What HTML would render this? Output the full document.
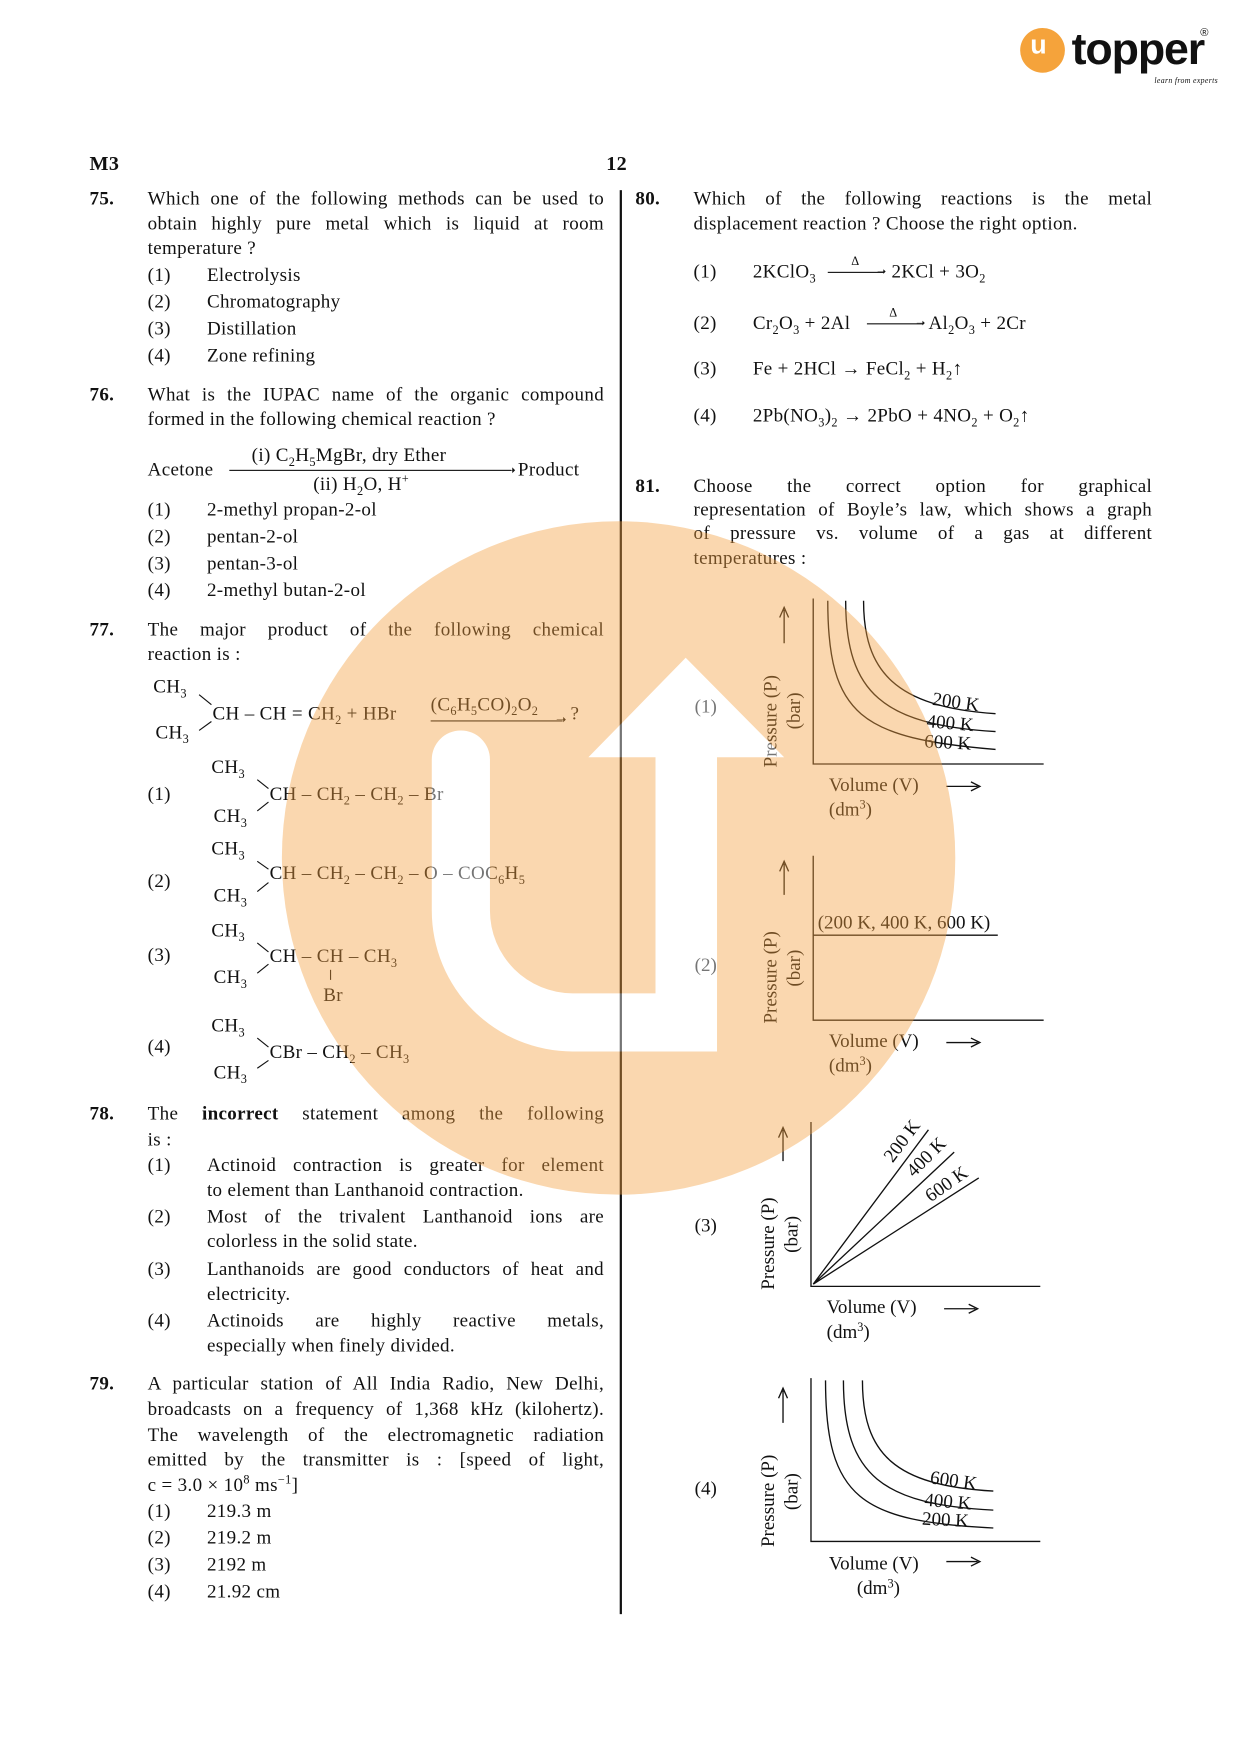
<!DOCTYPE html>
<html><head><meta charset="utf-8"><style>
html,body{margin:0;padding:0;background:#fff;}
body{width:1240px;height:1755px;overflow:hidden;position:relative;}
#c{position:absolute;left:0;top:0;width:1109px;height:1569px;transform-origin:0 0;transform:scale(1.1186,1.1186);font-family:"Liberation Serif",serif;color:#111;}
.t{position:absolute;white-space:nowrap;font-size:17px;line-height:20px;letter-spacing:0.3px;}
.j{position:absolute;font-size:17px;line-height:20px;text-align:justify;text-align-last:justify;white-space:normal;letter-spacing:0.3px;}
sub,sup{font-size:11px;line-height:0;}
b{font-weight:bold;}
</style></head><body><div id="c">
<!-- logo -->
<div style="position:absolute;left:912px;top:25px;width:40px;height:40px;border-radius:50%;background:#f5a33b;"></div>
<div class="t" style="left:921px;top:31px;color:#fff;font-family:'Liberation Sans',sans-serif;font-size:24px;font-weight:bold;">u</div>
<div class="t" style="left:958px;top:22px;font-family:'Liberation Sans',sans-serif;font-size:40px;line-height:44px;font-weight:bold;letter-spacing:-1px;">topper</div>
<div class="t" style="left:1073px;top:20px;font-size:10px;font-family:'Liberation Sans',sans-serif;">®</div>
<div class="t" style="left:1032px;top:62px;font-size:7px;font-style:italic;">learn from experts</div>

<div class="t" style="left:80px;top:136px;font-weight:bold;font-size:18px;">M3</div>
<div class="t" style="left:542px;top:136px;font-weight:bold;font-size:18px;">12</div>
<div style="position:absolute;left:554px;top:170px;width:1.5px;height:1273px;background:#111;"></div>

<!-- 75 -->
<div class="t" style="left:80px;top:168px;font-weight:bold;">75.</div>
<div class="j" style="left:132px;top:168px;width:408px;">Which one of the following methods can be used to</div>
<div class="j" style="left:132px;top:190px;width:408px;">obtain highly pure metal which is liquid at room</div>
<div class="t" style="left:132px;top:212px;">temperature ?</div>
<div class="t" style="left:132px;top:236px;">(1)</div><div class="t" style="left:185px;top:236px;">Electrolysis</div>
<div class="t" style="left:132px;top:260px;">(2)</div><div class="t" style="left:185px;top:260px;">Chromatography</div>
<div class="t" style="left:132px;top:284px;">(3)</div><div class="t" style="left:185px;top:284px;">Distillation</div>
<div class="t" style="left:132px;top:308px;">(4)</div><div class="t" style="left:185px;top:308px;">Zone refining</div>
<!-- 76 -->
<div class="t" style="left:80px;top:343px;font-weight:bold;">76.</div>
<div class="j" style="left:132px;top:343px;width:408px;">What is the IUPAC name of the organic compound</div>
<div class="t" style="left:132px;top:365px;">formed in the following chemical reaction ?</div>
<div class="t" style="left:132px;top:410px;">Acetone</div>
<div class="t" style="left:225px;top:397px;">(i) C<sub>2</sub>H<sub>5</sub>MgBr, dry Ether</div>
<div class="t" style="left:280px;top:423px;">(ii) H<sub>2</sub>O, H<sup>+</sup></div>
<div style="position:absolute;left:205px;top:420px;width:252px;height:1px;background:#111;"></div>
<div class="t" style="left:451px;top:410px;font-size:12px;">➝</div>
<div class="t" style="left:463px;top:410px;">Product</div>
<div class="t" style="left:132px;top:446px;">(1)</div><div class="t" style="left:185px;top:446px;">2-methyl propan-2-ol</div>
<div class="t" style="left:132px;top:470px;">(2)</div><div class="t" style="left:185px;top:470px;">pentan-2-ol</div>
<div class="t" style="left:132px;top:494px;">(3)</div><div class="t" style="left:185px;top:494px;">pentan-3-ol</div>
<div class="t" style="left:132px;top:518px;">(4)</div><div class="t" style="left:185px;top:518px;">2-methyl butan-2-ol</div>
<!-- 77 -->
<div class="t" style="left:80px;top:553px;font-weight:bold;">77.</div>
<div class="j" style="left:132px;top:553px;width:408px;">The major product of the following chemical</div>
<div class="t" style="left:132px;top:575px;">reaction is :</div>
<div class="t" style="left:137px;top:604px;">CH<sub>3</sub></div>
<div class="t" style="left:139px;top:645px;">CH<sub>3</sub></div>
<div class="t" style="left:190px;top:628px;">CH – CH = CH<sub>2</sub> + HBr</div>
<div class="t" style="left:385px;top:620px;">(C<sub>6</sub>H<sub>5</sub>CO)<sub>2</sub>O<sub>2</sub></div>
<div style="position:absolute;left:385px;top:644px;width:118px;height:1px;background:#111;"></div>
<div class="t" style="left:497px;top:634px;font-size:11px;">➝</div>
<div class="t" style="left:510px;top:628px;">?</div>
<svg style="position:absolute;left:0;top:0" width="600" height="1000">
<g stroke="#111" stroke-width="1">
<line x1="178" y1="621" x2="189" y2="630"/><line x1="178" y1="653" x2="189" y2="645"/>
<line x1="230" y1="697" x2="240" y2="705"/><line x1="230" y1="725" x2="240" y2="717"/>
<line x1="230" y1="770" x2="240" y2="777"/><line x1="230" y1="797" x2="240" y2="789"/>
<line x1="230" y1="843" x2="240" y2="851"/><line x1="230" y1="870" x2="240" y2="862"/>
<line x1="230" y1="928" x2="240" y2="936"/><line x1="230" y1="955" x2="240" y2="948"/>
</g></svg>
<div class="t" style="left:132px;top:700px;">(1)</div>
<div class="t" style="left:189px;top:676px;">CH<sub>3</sub></div>
<div class="t" style="left:191px;top:720px;">CH<sub>3</sub></div>
<div class="t" style="left:241px;top:700px;">CH – CH<sub>2</sub> – CH<sub>2</sub> – Br</div>
<div class="t" style="left:132px;top:778px;">(2)</div>
<div class="t" style="left:189px;top:749px;">CH<sub>3</sub></div>
<div class="t" style="left:191px;top:791px;">CH<sub>3</sub></div>
<div class="t" style="left:241px;top:771px;">CH – CH<sub>2</sub> – CH<sub>2</sub> – O – COC<sub>6</sub>H<sub>5</sub></div>
<div class="t" style="left:132px;top:844px;">(3)</div>
<div class="t" style="left:189px;top:822px;">CH<sub>3</sub></div>
<div class="t" style="left:191px;top:864px;">CH<sub>3</sub></div>
<div class="t" style="left:241px;top:845px;">CH – CH – CH<sub>3</sub></div>
<div style="position:absolute;left:295px;top:867px;width:1px;height:9px;background:#111;"></div>
<div class="t" style="left:289px;top:880px;">Br</div>
<div class="t" style="left:132px;top:926px;">(4)</div>
<div class="t" style="left:189px;top:907px;">CH<sub>3</sub></div>
<div class="t" style="left:191px;top:949px;">CH<sub>3</sub></div>
<div class="t" style="left:241px;top:931px;">CBr – CH<sub>2</sub> – CH<sub>3</sub></div>
<!-- 78 -->
<div class="t" style="left:80px;top:986px;font-weight:bold;">78.</div>
<div class="j" style="left:132px;top:986px;width:408px;">The <b>incorrect</b> statement among the following</div>
<div class="t" style="left:132px;top:1009px;">is :</div>
<div class="t" style="left:132px;top:1032px;">(1)</div><div class="j" style="left:185px;top:1032px;width:355px;">Actinoid contraction is greater for element</div>
<div class="t" style="left:185px;top:1054px;">to element than Lanthanoid contraction.</div>
<div class="t" style="left:132px;top:1078px;">(2)</div><div class="j" style="left:185px;top:1078px;width:355px;">Most of the trivalent Lanthanoid ions are</div>
<div class="t" style="left:185px;top:1100px;">colorless in the solid state.</div>
<div class="t" style="left:132px;top:1125px;">(3)</div><div class="j" style="left:185px;top:1125px;width:355px;">Lanthanoids are good conductors of heat and</div>
<div class="t" style="left:185px;top:1147px;">electricity.</div>
<div class="t" style="left:132px;top:1171px;">(4)</div><div class="j" style="left:185px;top:1171px;width:355px;">Actinoids are highly reactive metals,</div>
<div class="t" style="left:185px;top:1193px;">especially when finely divided.</div>
<!-- 79 -->
<div class="t" style="left:80px;top:1227px;font-weight:bold;">79.</div>
<div class="j" style="left:132px;top:1227px;width:408px;">A particular station of All India Radio, New Delhi,</div>
<div class="j" style="left:132px;top:1250px;width:408px;">broadcasts on a frequency of 1,368 kHz (kilohertz).</div>
<div class="j" style="left:132px;top:1273px;width:408px;">The wavelength of the electromagnetic radiation</div>
<div class="j" style="left:132px;top:1295px;width:408px;">emitted by the transmitter is : [speed of light,</div>
<div class="t" style="left:132px;top:1318px;">c = 3.0 × 10<sup>8</sup> ms<sup>−1</sup>]</div>
<div class="t" style="left:132px;top:1341px;">(1)</div><div class="t" style="left:185px;top:1341px;">219.3 m</div>
<div class="t" style="left:132px;top:1365px;">(2)</div><div class="t" style="left:185px;top:1365px;">219.2 m</div>
<div class="t" style="left:132px;top:1389px;">(3)</div><div class="t" style="left:185px;top:1389px;">2192 m</div>
<div class="t" style="left:132px;top:1413px;">(4)</div><div class="t" style="left:185px;top:1413px;">21.92 cm</div>

<!-- 80 -->
<div class="t" style="left:568px;top:168px;font-weight:bold;">80.</div>
<div class="j" style="left:620px;top:168px;width:410px;">Which of the following reactions is the metal</div>
<div class="t" style="left:620px;top:190px;">displacement reaction ? Choose the right option.</div>
<div class="t" style="left:620px;top:233px;">(1)</div>
<div class="t" style="left:673px;top:233px;">2KClO<sub>3</sub></div>
<div style="position:absolute;left:740px;top:243px;width:50px;height:1px;background:#111;"></div>
<div class="t" style="left:784px;top:234px;font-size:10px;">➝</div>
<div class="t" style="left:761px;top:224px;font-size:11px;">Δ</div>
<div class="t" style="left:797px;top:233px;">2KCl + 3O<sub>2</sub></div>
<div class="t" style="left:620px;top:279px;">(2)</div>
<div class="t" style="left:673px;top:279px;">Cr<sub>2</sub>O<sub>3</sub> + 2Al</div>
<div style="position:absolute;left:775px;top:289px;width:50px;height:1px;background:#111;"></div>
<div class="t" style="left:819px;top:280px;font-size:10px;">➝</div>
<div class="t" style="left:795px;top:270px;font-size:11px;">Δ</div>
<div class="t" style="left:830px;top:279px;">Al<sub>2</sub>O<sub>3</sub> + 2Cr</div>
<div class="t" style="left:620px;top:320px;">(3)</div>
<div class="t" style="left:673px;top:320px;">Fe + 2HCl → FeCl<sub>2</sub> + H<sub>2</sub>↑</div>
<div class="t" style="left:620px;top:362px;">(4)</div>
<div class="t" style="left:673px;top:362px;">2Pb(NO<sub>3</sub>)<sub>2</sub> → 2PbO + 4NO<sub>2</sub> + O<sub>2</sub>↑</div>
<!-- 81 -->
<div class="t" style="left:568px;top:425px;font-weight:bold;">81.</div>
<div class="j" style="left:620px;top:425px;width:410px;">Choose the correct option for graphical</div>
<div class="j" style="left:620px;top:446px;width:410px;">representation of Boyle’s law, which shows a graph</div>
<div class="j" style="left:620px;top:467px;width:410px;">of pressure vs. volume of a gas at different</div>
<div class="t" style="left:620px;top:489px;">temperatures :</div>

<svg style="position:absolute;left:0;top:0" width="1109" height="1569" font-family="Liberation Serif, serif" font-size="17" fill="#111">
<g stroke="#111" stroke-width="1.2" fill="none">
<path d="M727 535 V683 H933"/>
<path d="M740 537 C740 640 770 660 890 670"/>
<path d="M756 537 C756 620 790 648 890 654"/>
<path d="M772 537 C772 600 800 632 890 638"/>
<path d="M701 575 V545 M697 552 L701 543 L705 552"/>
<path d="M846 703 H874 M868 699 L876 703 L868 707"/>
<path d="M727 765 V912 H933"/>
<path d="M727 836 H892"/>
<path d="M701 800 V772 M697 779 L701 770 L705 779"/>
<path d="M846 932 H874 M868 928 L876 932 L868 936"/>
<path d="M725 1003 V1150 H930"/>
<path d="M727 1148 L830 1010 M727 1148 L853 1030 M727 1148 L875 1053"/>
<path d="M700 1038 V1010 M696 1017 L700 1008 L704 1017"/>
<path d="M844 1170 H872 M866 1166 L874 1170 L866 1174"/>
<path d="M725 1232 V1378 H930"/>
<path d="M738 1234 C738 1340 770 1360 888 1366"/>
<path d="M754 1234 C754 1320 790 1345 888 1350"/>
<path d="M771 1234 C771 1300 800 1328 888 1333"/>
<path d="M700 1272 V1243 M696 1250 L700 1241 L704 1250"/>
<path d="M846 1396 H874 M868 1392 L876 1396 L868 1400"/>
</g>
<text x="621" y="637">(1)</text>
<text transform="translate(694 686) rotate(-90)">Pressure (P)</text>
<text transform="translate(715 652) rotate(-90)">(bar)</text>
<text transform="translate(833 630) rotate(8)">200 K</text>
<text transform="translate(828 650) rotate(5)">400 K</text>
<text transform="translate(826 668) rotate(3)">600 K</text>
<text x="741" y="707">Volume (V)</text>
<text x="741" y="729">(dm<tspan font-size="11" dy="-6">3</tspan><tspan dy="6">)</tspan></text>

<text x="621" y="868">(2)</text>
<text transform="translate(694 915) rotate(-90)">Pressure (P)</text>
<text transform="translate(715 882) rotate(-90)">(bar)</text>
<text x="731" y="830">(200 K, 400 K, 600 K)</text>
<text x="741" y="936">Volume (V)</text>
<text x="741" y="958">(dm<tspan font-size="11" dy="-6">3</tspan><tspan dy="6">)</tspan></text>

<text x="621" y="1101">(3)</text>
<text transform="translate(692 1153) rotate(-90)">Pressure (P)</text>
<text transform="translate(713 1120) rotate(-90)">(bar)</text>
<text transform="translate(798 1040) rotate(-53)">200 K</text>
<text transform="translate(817 1053) rotate(-45)">400 K</text>
<text transform="translate(832 1075) rotate(-35)">600 K</text>
<text x="739" y="1174">Volume (V)</text>
<text x="739" y="1196">(dm<tspan font-size="11" dy="-6">3</tspan><tspan dy="6">)</tspan></text>

<text x="621" y="1336">(4)</text>
<text transform="translate(692 1383) rotate(-90)">Pressure (P)</text>
<text transform="translate(713 1350) rotate(-90)">(bar)</text>
<text transform="translate(831 1326) rotate(8)">600 K</text>
<text transform="translate(826 1346) rotate(5)">400 K</text>
<text transform="translate(824 1363) rotate(3)">200 K</text>
<text x="741" y="1403">Volume (V)</text>
<text x="766" y="1425">(dm<tspan font-size="11" dy="-6">3</tspan><tspan dy="6">)</tspan></text>
</svg>

<!-- watermark -->
<svg style="position:absolute;left:0;top:0;pointer-events:none" width="1109" height="1569">
<g opacity="0.42">
<circle cx="553" cy="767" r="301" fill="#f4a040"/>
<path d="M386 679 V814 A126 126 0 0 0 512 940 H641 V677 H701 L613 588 L526 677 H586 V888 H512 A74 74 0 0 1 438 814 V679 A26 26 0 0 0 386 679 Z" fill="#fff"/>
</g>
</svg>
</div></body></html>
